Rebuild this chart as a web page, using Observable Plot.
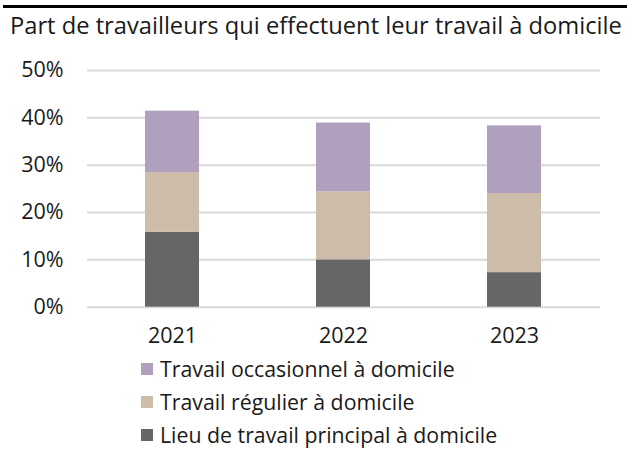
<!DOCTYPE html>
<html>
<head>
<meta charset="utf-8">
<script src="https://cdn.jsdelivr.net/npm/d3@7"></script>
<script src="https://cdn.jsdelivr.net/npm/@observablehq/plot@0.6"></script>
<style>
  html, body { margin: 0; padding: 0; background: #fff; }
  body { width: 627px; height: 450px; position: relative; overflow: hidden; font-family: "Open Sans", sans-serif; color: #1a1a1a; }
  #rule { position: absolute; left: 3px; right: 0; top: 5px; height: 3px; background: #000; }
  #title { position: absolute; left: 10px; top: 11px; font-size: 23.7px; line-height: 28px; white-space: nowrap; }
  #chart { position: absolute; left: 0; top: 40px; }
  #legend { position: absolute; left: 141px; top: 358px; font-size: 21.3px; line-height: 22px; }
  .item { display: flex; align-items: center; height: 22px; margin-bottom: 11px; white-space: nowrap; }
  .item:last-child { margin-bottom: 0; }
  .sw { width: 12px; height: 12px; margin-right: 7px; flex: none; }
</style>
</head>
<body>
<div id="rule"></div>
<div id="title">Part de travailleurs qui effectuent leur travail à domicile</div>
<div id="chart"></div>
<div id="legend"></div>
<script>
const years = ["2021", "2022", "2023"];
const series = ["Lieu de travail principal à domicile", "Travail régulier à domicile", "Travail occasionnel à domicile"];
const colors = ["#666666", "#cdbcaa", "#b09fbd"];
const principal = [15.8, 10.0, 7.3];
const regulier = [12.6, 14.4, 16.7];
const occasionnel = [13.0, 14.5, 14.3];
const yTicks = [0, 10, 20, 30, 40, 50];

const valuesBySeries = [principal, regulier, occasionnel];
const data = [];
series.forEach((s, i) => years.forEach((y, j) => data.push({year: y, series: s, value: valuesBySeries[i][j]})));

const plot = Plot.plot({
  width: 627,
  height: 310,
  marginTop: 30,
  marginBottom: 43.3,
  marginLeft: 87,
  marginRight: 27,
  style: {fontFamily: "Open Sans, sans-serif", fontSize: "21.5px", color: "#1a1a1a", background: "transparent"},
  x: {domain: years, label: null, paddingInner: 0.684, paddingOuter: 0.342, tickSize: 0, tickPadding: 21},
  y: {domain: [0, 50], ticks: yTicks, label: null, tickSize: 0, tickPadding: 24, tickFormat: d => d + "%"},
  color: {domain: series, range: colors},
  marks: [
    Plot.ruleY(yTicks, {stroke: "#d9d9d9", strokeWidth: 2}),
    Plot.barY(data, {x: "year", y: "value", fill: "series", order: series}),
  ]
});
document.getElementById("chart").appendChild(plot);

const legend = document.getElementById("legend");
[2, 1, 0].forEach(i => {
  const it = document.createElement("div");
  it.className = "item";
  const sw = document.createElement("span");
  sw.className = "sw";
  sw.style.background = colors[i];
  const t = document.createElement("span");
  t.textContent = series[i];
  it.appendChild(sw); it.appendChild(t);
  legend.appendChild(it);
});
</script>
</body>
</html>
